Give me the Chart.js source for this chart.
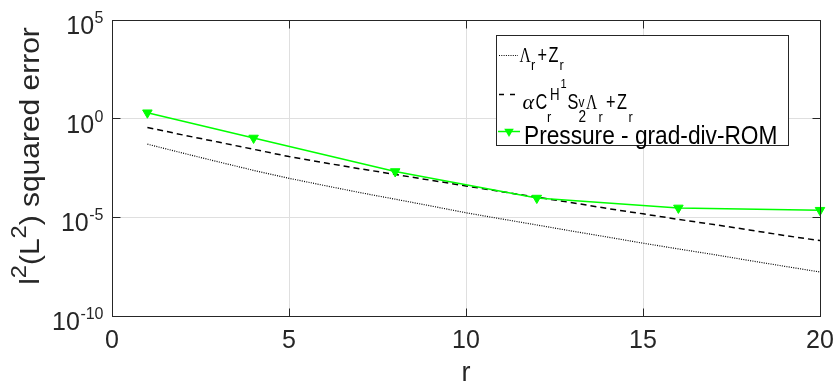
<!DOCTYPE html>
<html>
<head>
<meta charset="utf-8">
<title>l2(L2) squared error</title>
<script src="https://cdn.jsdelivr.net/npm/chart.js@4.4.1/dist/chart.umd.min.js"></script>
<style>
  html, body { margin: 0; padding: 0; background: #fff; }
  canvas { display: block; }
</style>
</head>
<body>
<canvas id="errorChart" width="835" height="383"></canvas>
<script>
// reduced basis dimension r
const rValues = [1, 2, 3, 4, 5, 6, 7, 8, 9, 10, 11, 12, 13, 14, 15, 16, 17, 18, 19, 20];
// Lambda_r + Z_r  (dotted)
const lambdaZ = [5.1e-2, 1.8e-2, 6.5e-3, 2.4e-3, 9.5e-4, 4.1e-4, 1.8e-4, 8.3e-5, 3.8e-5, 1.7e-5,
                 8.3e-6, 4.1e-6, 2.0e-6, 1.0e-6, 4.9e-7, 2.5e-7, 1.3e-7, 6.5e-8, 3.3e-8, 1.7e-8];
// alpha C_r^{H1} S_2^v Lambda_r + Z_r  (dashed)
const alphaBound = [3.6e-1, 1.5e-1, 6.5e-2, 2.8e-2, 1.2e-2, 5.8e-3, 2.9e-3, 1.5e-3, 7.6e-4, 3.9e-4,
                    2.0e-4, 1.05e-4, 5.5e-5, 2.8e-5, 1.5e-5, 7.9e-6, 4.3e-6, 2.3e-6, 1.2e-6, 6.6e-7];
// Pressure - grad-div-ROM
const pressureR = [1, 4, 8, 12, 16, 20];
const pressureErr = [2.0, 1.05e-1, 2.1e-3, 9.5e-5, 3.0e-5, 2.3e-5];

const xTicks = [0, 5, 10, 15, 20];
const yTickExponents = [5, 0, -5, -10];

const INK = '#262626';
const SANS = '"Liberation Sans", Arial, sans-serif';
const SERIF = '"Liberation Serif", "Times New Roman", serif';

const pairs = (xs, ys) => xs.map((x, i) => ({ x: x, y: ys[i] }));

function align(px) {
    return Math.round(px - 0.5) + 0.5;
}

function put(ctx, str, x, y, font, opts) {
    opts = opts || {};
    ctx.save();
    ctx.translate(x, y);
    ctx.scale(opts.sx || 1, opts.sy || 1);
    ctx.font = font;
    ctx.fillStyle = opts.color || INK;
    ctx.textAlign = opts.align || 'left';
    ctx.textBaseline = 'alphabetic';
    ctx.fillText(str, 0, 0);
    ctx.restore();
}

function seg(ctx, x1, x2, y, color, width, dash) {
    ctx.save();
    ctx.strokeStyle = color;
    ctx.lineWidth = width;
    ctx.setLineDash(dash || []);
    ctx.beginPath();
    ctx.moveTo(x1, y);
    ctx.lineTo(x2, y);
    ctx.stroke();
    ctx.restore();
}

// MATLAB-like axes box, inward ticks, tick labels, titles and legend
const matlabAxes = {
    id: 'matlabAxes',
    afterDraw(chart) {
        const ctx = chart.ctx;
        const a = chart.chartArea;
        const xs = chart.scales.x;
        const ys = chart.scales.y;
        const L = align(a.left), R = align(a.right), T = align(a.top), B = align(a.bottom);

        ctx.save();
        ctx.strokeStyle = INK;
        ctx.lineWidth = 1;
        ctx.strokeRect(L, T, R - L, B - T);

        ctx.beginPath();
        xTicks.forEach(v => {
            const px = align(xs.getPixelForValue(v));
            ctx.moveTo(px, B); ctx.lineTo(px, B - 8);
            ctx.moveTo(px, T); ctx.lineTo(px, T + 8);
        });
        yTickExponents.forEach(e => {
            const py = align(ys.getPixelForValue(Math.pow(10, e)));
            ctx.moveTo(L, py); ctx.lineTo(L + 8, py);
            ctx.moveTo(R, py); ctx.lineTo(R - 8, py);
        });
        ctx.stroke();
        ctx.restore();

        // x tick labels
        xTicks.forEach(v => {
            put(ctx, String(v), xs.getPixelForValue(v), 348, '25px ' + SANS, { align: 'center' });
        });

        // y tick labels 10^e
        yTickExponents.forEach(e => {
            const py = ys.getPixelForValue(Math.pow(10, e));
            const right = 103.5;
            ctx.font = '16px ' + SANS;
            const w = ctx.measureText(String(e)).width;
            put(ctx, String(e), right - w, py + 3, '16px ' + SANS);
            put(ctx, '10', right - w - 0.5, py + 14, '25px ' + SANS, { align: 'right' });
        });

        // x title
        put(ctx, 'r', xs.getPixelForValue(10), 381, '27px ' + SANS, { align: 'center' });

        // y title: l^2(L^2) squared error, rotated
        const parts = [
            ['l', 28, 0], ['2', 22, -13], ['(L', 28, 0], ['2', 22, -13], [') squared error', 28, 0]
        ];
        let total = 0;
        parts.forEach(p => { ctx.font = p[1] + 'px ' + SANS; total += ctx.measureText(p[0]).width; });
        ctx.save();
        ctx.translate(38.5, 156);
        ctx.rotate(-Math.PI / 2);
        ctx.scale(1.07, 1);
        let cx = -total / 2;
        parts.forEach(p => {
            ctx.font = p[1] + 'px ' + SANS;
            ctx.fillStyle = INK;
            ctx.fillText(p[0], cx, p[2]);
            cx += ctx.measureText(p[0]).width;
        });
        ctx.restore();

        // legend box
        ctx.save();
        ctx.fillStyle = '#fff';
        ctx.fillRect(496.5, 35.5, 292, 110);
        ctx.strokeStyle = INK;
        ctx.lineWidth = 1;
        ctx.strokeRect(496.5, 35.5, 292, 110);
        ctx.restore();

        // row 1: dotted
        seg(ctx, 499, 518, 55.5, '#000', 1.2, [1, 1.3]);
        const k = { sx: 0.74, color: '#000' };
        const s = { sx: 0.85, color: '#000' };
        put(ctx, '\u039B', 519.5, 61.5, '21px ' + SERIF, k);
        put(ctx, 'r', 531, 70, '15px ' + SANS, s);
        put(ctx, '+', 537.5, 61.5, '22px ' + SANS, k);
        put(ctx, 'Z', 548.5, 61.5, '22px ' + SANS, k);
        put(ctx, 'r', 559.5, 70, '15px ' + SANS, s);

        // row 2: dashed
        seg(ctx, 499, 516, 94.5, '#000', 1.5, [5, 6]);
        put(ctx, '\u03B1', 522.5, 109, 'italic 22px ' + SERIF, { color: '#000' });
        put(ctx, 'C', 535.5, 109, '22px ' + SANS, k);
        put(ctx, 'r', 547, 121.5, '15px ' + SANS, s);
        put(ctx, 'H', 550, 100, '17px ' + SANS, { sx: 0.78, color: '#000' });
        put(ctx, '1', 560.5, 88, '13px ' + SANS, s);
        put(ctx, 'S', 567.5, 109, '22px ' + SANS, k);
        put(ctx, 'v', 578.5, 106.5, '14px ' + SANS, s);
        put(ctx, '2', 578.5, 122, '16px ' + SANS, s);
        put(ctx, '\u039B', 586, 109, '21px ' + SERIF, k);
        put(ctx, 'r', 598.5, 121.5, '15px ' + SANS, s);
        put(ctx, '+', 606, 109, '22px ' + SANS, k);
        put(ctx, 'Z', 617, 109, '22px ' + SANS, k);
        put(ctx, 'r', 628.5, 121.5, '15px ' + SANS, s);

        // row 3: green with marker
        seg(ctx, 498, 520, 131.5, '#00ff00', 1.5);
        ctx.save();
        ctx.fillStyle = '#00ff00';
        ctx.beginPath();
        ctx.moveTo(509, 131.5 + 5.5);
        ctx.lineTo(509 - 4.8, 131.5 - 2.75);
        ctx.lineTo(509 + 4.8, 131.5 - 2.75);
        ctx.closePath();
        ctx.fill();
        ctx.restore();
        put(ctx, 'Pressure - grad-div-ROM', 524, 143.5, '22.7px ' + SANS, { sy: 1.15, color: '#000' });
    }
};

new Chart(document.getElementById('errorChart'), {
    type: 'line',
    data: {
        datasets: [
            {
                label: 'Lambda_r + Z_r',
                data: pairs(rValues, lambdaZ),
                borderColor: '#000',
                borderWidth: 1.2,
                borderDash: [1, 1.3],
                pointRadius: 0,
                order: 2
            },
            {
                label: 'alpha C_r S_2 Lambda_r + Z_r',
                data: pairs(rValues, alphaBound),
                borderColor: '#000',
                borderWidth: 1.5,
                borderDash: [6, 4],
                pointRadius: 0,
                order: 1
            },
            {
                label: 'Pressure - grad-div-ROM',
                data: pairs(pressureR, pressureErr),
                borderColor: '#00ff00',
                backgroundColor: '#00ff00',
                borderWidth: 1.5,
                pointStyle: 'triangle',
                pointRotation: 180,
                pointRadius: 5.5,
                pointBorderWidth: 1,
                pointBackgroundColor: '#00ff00',
                pointBorderColor: '#00ff00',
                clip: false,
                order: 0
            }
        ]
    },
    options: {
        responsive: false,
        devicePixelRatio: 1,
        animation: false,
        events: [],
        layout: {
            autoPadding: false,
            padding: { left: 112, right: 15, top: 20, bottom: 67 }
        },
        elements: { line: { tension: 0, fill: false } },
        plugins: {
            legend: { display: false },
            tooltip: { enabled: false }
        },
        scales: {
            x: {
                type: 'linear',
                min: 0,
                max: 20,
                afterBuildTicks: (scale) => { scale.ticks = xTicks.map(v => ({ value: v })); },
                ticks: { display: false },
                border: { display: false },
                grid: { color: '#dfdfdf', lineWidth: 1, drawTicks: false }
            },
            y: {
                type: 'logarithmic',
                min: 1e-10,
                max: 1e5,
                afterBuildTicks: (scale) => {
                    scale.ticks = yTickExponents.map(e => ({ value: Math.pow(10, e) }));
                },
                ticks: { display: false },
                border: { display: false },
                grid: { color: '#dfdfdf', lineWidth: 1, drawTicks: false }
            }
        }
    },
    plugins: [matlabAxes]
});
</script>
</body>
</html>
